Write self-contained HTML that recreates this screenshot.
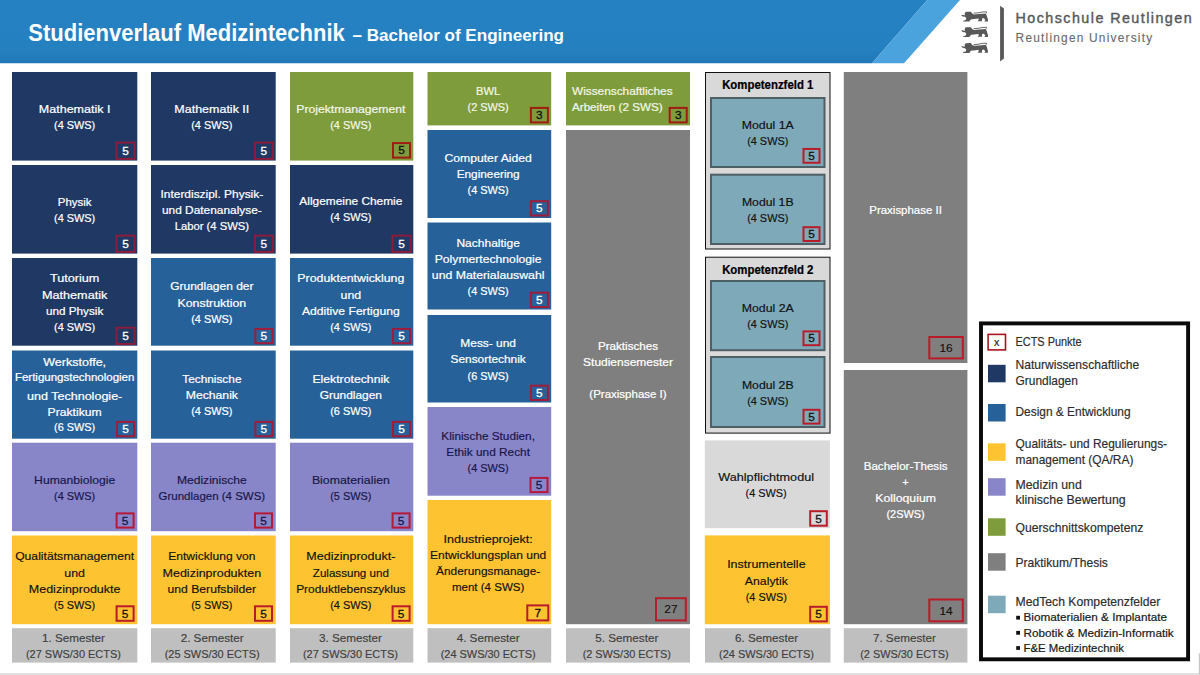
<!DOCTYPE html>
<html><head><meta charset="utf-8"><title>Studienverlauf Medizintechnik</title>
<style>html,body{margin:0;padding:0;background:#fff}body{width:1200px;height:675px;overflow:hidden}svg{display:block}text{font-family:"Liberation Sans",sans-serif}</style></head>
<body>
<svg width="1200" height="675" viewBox="0 0 1200 675">
<rect x="0" y="0" width="1200" height="675" fill="#ffffff"/>
<defs><linearGradient id="hg" x1="0" y1="0" x2="0" y2="1"><stop offset="0" stop-color="#2581c2"/><stop offset="0.8" stop-color="#2580c0"/><stop offset="1" stop-color="#2077b5"/></linearGradient></defs>
<polygon points="0,0 927.3,0 872,63.3 0,63.3" fill="url(#hg)"/>
<polygon points="927.3,0 960,0 904,63.3 872,63.3" fill="#4ba3de"/>
<text x="28.30" y="41.20" font-size="23.7" fill="#ffffff" font-weight="bold" textLength="316.50" lengthAdjust="spacingAndGlyphs">Studienverlauf Medizintechnik</text>
<text x="352.50" y="41.20" font-size="17.2" fill="#ffffff" font-weight="bold" textLength="211.50" lengthAdjust="spacingAndGlyphs">– Bachelor of Engineering</text>
<rect x="12.00" y="72.00" width="125.30" height="88.60" fill="#1f3864"/>
<text x="74.65" y="112.95" font-size="11.8" fill="#ffffff" text-anchor="middle" textLength="71.62" lengthAdjust="spacingAndGlyphs" stroke="#ffffff" stroke-width="0.22">Mathematik I</text>
<text x="74.65" y="129.05" font-size="11.8" fill="#ffffff" text-anchor="middle" textLength="41.24" lengthAdjust="spacingAndGlyphs" stroke="#ffffff" stroke-width="0.22">(4 SWS)</text>
<rect x="116.50" y="142.60" width="18.00" height="16.30" fill="none" stroke="#8c1c3c" stroke-width="2"/>
<text x="125.50" y="154.85" font-size="11.4" fill="#ffffff" text-anchor="middle" textLength="6.59" lengthAdjust="spacingAndGlyphs" stroke="#ffffff" stroke-width="0.3">5</text>
<rect x="12.00" y="165.00" width="125.30" height="88.60" fill="#1f3864"/>
<text x="74.65" y="205.95" font-size="11.8" fill="#ffffff" text-anchor="middle" textLength="33.66" lengthAdjust="spacingAndGlyphs" stroke="#ffffff" stroke-width="0.22">Physik</text>
<text x="74.65" y="222.05" font-size="11.8" fill="#ffffff" text-anchor="middle" textLength="41.24" lengthAdjust="spacingAndGlyphs" stroke="#ffffff" stroke-width="0.22">(4 SWS)</text>
<rect x="116.50" y="235.60" width="18.00" height="16.30" fill="none" stroke="#8c1c3c" stroke-width="2"/>
<text x="125.50" y="247.85" font-size="11.4" fill="#ffffff" text-anchor="middle" textLength="6.59" lengthAdjust="spacingAndGlyphs" stroke="#ffffff" stroke-width="0.3">5</text>
<rect x="12.00" y="258.00" width="125.30" height="87.70" fill="#1f3864"/>
<text x="74.65" y="282.40" font-size="11.8" fill="#ffffff" text-anchor="middle" textLength="49.48" lengthAdjust="spacingAndGlyphs" stroke="#ffffff" stroke-width="0.22">Tutorium</text>
<text x="74.65" y="298.50" font-size="11.8" fill="#ffffff" text-anchor="middle" textLength="65.35" lengthAdjust="spacingAndGlyphs" stroke="#ffffff" stroke-width="0.22">Mathematik</text>
<text x="74.65" y="314.60" font-size="11.8" fill="#ffffff" text-anchor="middle" textLength="57.27" lengthAdjust="spacingAndGlyphs" stroke="#ffffff" stroke-width="0.22">und Physik</text>
<text x="74.65" y="330.70" font-size="11.8" fill="#ffffff" text-anchor="middle" textLength="41.24" lengthAdjust="spacingAndGlyphs" stroke="#ffffff" stroke-width="0.22">(4 SWS)</text>
<rect x="116.50" y="327.70" width="18.00" height="16.30" fill="none" stroke="#8c1c3c" stroke-width="2"/>
<text x="125.50" y="339.95" font-size="11.4" fill="#ffffff" text-anchor="middle" textLength="6.59" lengthAdjust="spacingAndGlyphs" stroke="#ffffff" stroke-width="0.3">5</text>
<rect x="12.00" y="350.50" width="125.30" height="88.20" fill="#276199"/>
<text x="74.65" y="365.80" font-size="11.8" fill="#ffffff" text-anchor="middle" textLength="62.90" lengthAdjust="spacingAndGlyphs" stroke="#ffffff" stroke-width="0.22">Werkstoffe,</text>
<text x="74.65" y="381.40" font-size="10.9" fill="#ffffff" text-anchor="middle" textLength="119.50" lengthAdjust="spacingAndGlyphs" stroke="#ffffff" stroke-width="0.22">Fertigungstechnologien</text>
<text x="74.65" y="400.20" font-size="11.8" fill="#ffffff" text-anchor="middle" textLength="95.30" lengthAdjust="spacingAndGlyphs" stroke="#ffffff" stroke-width="0.22">und  Technologie-</text>
<text x="74.65" y="416.10" font-size="11.8" fill="#ffffff" text-anchor="middle" textLength="54.26" lengthAdjust="spacingAndGlyphs" stroke="#ffffff" stroke-width="0.22">Praktikum</text>
<text x="74.65" y="431.20" font-size="11.8" fill="#ffffff" text-anchor="middle" textLength="41.24" lengthAdjust="spacingAndGlyphs" stroke="#ffffff" stroke-width="0.22">(6 SWS)</text>
<rect x="117.00" y="421.90" width="17.00" height="14.30" fill="none" stroke="#a01c3a" stroke-width="2"/>
<text x="125.50" y="433.15" font-size="11.4" fill="#ffffff" text-anchor="middle" textLength="6.59" lengthAdjust="spacingAndGlyphs" stroke="#ffffff" stroke-width="0.3">5</text>
<rect x="12.00" y="442.70" width="125.30" height="88.50" fill="#8985c9"/>
<text x="74.65" y="483.60" font-size="11.8" fill="#16164a" text-anchor="middle" textLength="81.07" lengthAdjust="spacingAndGlyphs" stroke="#16164a" stroke-width="0.17">Humanbiologie</text>
<text x="74.65" y="499.70" font-size="11.8" fill="#16164a" text-anchor="middle" textLength="41.24" lengthAdjust="spacingAndGlyphs" stroke="#16164a" stroke-width="0.17">(4 SWS)</text>
<rect x="116.60" y="513.40" width="17.00" height="14.20" fill="none" stroke="#b81838" stroke-width="2"/>
<text x="125.10" y="524.60" font-size="11.4" fill="#16164a" text-anchor="middle" textLength="6.59" lengthAdjust="spacingAndGlyphs" stroke="#16164a" stroke-width="0.3">5</text>
<rect x="12.00" y="535.50" width="125.30" height="88.70" fill="#fec331"/>
<text x="74.65" y="560.40" font-size="11.8" fill="#111111" text-anchor="middle" textLength="118.99" lengthAdjust="spacingAndGlyphs" stroke="#111111" stroke-width="0.17">Qualitätsmanagement</text>
<text x="74.65" y="576.50" font-size="11.8" fill="#111111" text-anchor="middle" textLength="20.65" lengthAdjust="spacingAndGlyphs" stroke="#111111" stroke-width="0.17">und</text>
<text x="74.65" y="592.60" font-size="11.8" fill="#111111" text-anchor="middle" textLength="91.66" lengthAdjust="spacingAndGlyphs" stroke="#111111" stroke-width="0.17">Medizinprodukte</text>
<text x="74.65" y="608.70" font-size="11.8" fill="#111111" text-anchor="middle" textLength="41.24" lengthAdjust="spacingAndGlyphs" stroke="#111111" stroke-width="0.17">(5 SWS)</text>
<rect x="116.60" y="606.30" width="17.00" height="14.50" fill="none" stroke="#b81c28" stroke-width="2"/>
<text x="125.10" y="617.65" font-size="11.4" fill="#111111" text-anchor="middle" textLength="6.59" lengthAdjust="spacingAndGlyphs" stroke="#111111" stroke-width="0.3">5</text>
<rect x="151.00" y="72.00" width="124.70" height="88.60" fill="#1f3864"/>
<text x="211.85" y="112.95" font-size="11.8" fill="#ffffff" text-anchor="middle" textLength="74.92" lengthAdjust="spacingAndGlyphs" stroke="#ffffff" stroke-width="0.22">Mathematik II</text>
<text x="211.85" y="129.05" font-size="11.8" fill="#ffffff" text-anchor="middle" textLength="41.24" lengthAdjust="spacingAndGlyphs" stroke="#ffffff" stroke-width="0.22">(4 SWS)</text>
<rect x="254.90" y="142.60" width="18.00" height="16.30" fill="none" stroke="#8c1c3c" stroke-width="2"/>
<text x="263.90" y="154.85" font-size="11.4" fill="#ffffff" text-anchor="middle" textLength="6.59" lengthAdjust="spacingAndGlyphs" stroke="#ffffff" stroke-width="0.3">5</text>
<rect x="151.00" y="165.00" width="124.70" height="88.60" fill="#1f3864"/>
<text x="211.85" y="197.90" font-size="11.8" fill="#ffffff" text-anchor="middle" textLength="102.68" lengthAdjust="spacingAndGlyphs" stroke="#ffffff" stroke-width="0.22">Interdiszipl. Physik-</text>
<text x="211.85" y="214.00" font-size="11.8" fill="#ffffff" text-anchor="middle" textLength="99.75" lengthAdjust="spacingAndGlyphs" stroke="#ffffff" stroke-width="0.22">und Datenanalyse-</text>
<text x="211.85" y="230.10" font-size="11.8" fill="#ffffff" text-anchor="middle" textLength="74.34" lengthAdjust="spacingAndGlyphs" stroke="#ffffff" stroke-width="0.22">Labor (4 SWS)</text>
<rect x="254.90" y="235.60" width="18.00" height="16.30" fill="none" stroke="#8c1c3c" stroke-width="2"/>
<text x="263.90" y="247.85" font-size="11.4" fill="#ffffff" text-anchor="middle" textLength="6.59" lengthAdjust="spacingAndGlyphs" stroke="#ffffff" stroke-width="0.3">5</text>
<rect x="151.00" y="258.00" width="124.70" height="87.70" fill="#276199"/>
<text x="211.85" y="290.45" font-size="11.8" fill="#ffffff" text-anchor="middle" textLength="83.26" lengthAdjust="spacingAndGlyphs" stroke="#ffffff" stroke-width="0.22">Grundlagen der</text>
<text x="211.85" y="306.55" font-size="11.8" fill="#ffffff" text-anchor="middle" textLength="68.70" lengthAdjust="spacingAndGlyphs" stroke="#ffffff" stroke-width="0.22">Konstruktion</text>
<text x="211.85" y="322.65" font-size="11.8" fill="#ffffff" text-anchor="middle" textLength="41.24" lengthAdjust="spacingAndGlyphs" stroke="#ffffff" stroke-width="0.22">(4 SWS)</text>
<rect x="255.40" y="328.90" width="17.00" height="14.30" fill="none" stroke="#a01c3a" stroke-width="2"/>
<text x="263.90" y="340.15" font-size="11.4" fill="#ffffff" text-anchor="middle" textLength="6.59" lengthAdjust="spacingAndGlyphs" stroke="#ffffff" stroke-width="0.3">5</text>
<rect x="151.00" y="350.50" width="124.70" height="88.20" fill="#276199"/>
<text x="211.85" y="383.20" font-size="11.8" fill="#ffffff" text-anchor="middle" textLength="59.28" lengthAdjust="spacingAndGlyphs" stroke="#ffffff" stroke-width="0.22">Technische</text>
<text x="211.85" y="399.30" font-size="11.8" fill="#ffffff" text-anchor="middle" textLength="52.26" lengthAdjust="spacingAndGlyphs" stroke="#ffffff" stroke-width="0.22">Mechanik</text>
<text x="211.85" y="415.40" font-size="11.8" fill="#ffffff" text-anchor="middle" textLength="41.24" lengthAdjust="spacingAndGlyphs" stroke="#ffffff" stroke-width="0.22">(4 SWS)</text>
<rect x="255.40" y="421.90" width="17.00" height="14.30" fill="none" stroke="#a01c3a" stroke-width="2"/>
<text x="263.90" y="433.15" font-size="11.4" fill="#ffffff" text-anchor="middle" textLength="6.59" lengthAdjust="spacingAndGlyphs" stroke="#ffffff" stroke-width="0.3">5</text>
<rect x="151.00" y="442.70" width="124.70" height="88.50" fill="#8985c9"/>
<text x="211.85" y="483.60" font-size="11.8" fill="#16164a" text-anchor="middle" textLength="69.74" lengthAdjust="spacingAndGlyphs" stroke="#16164a" stroke-width="0.17">Medizinische</text>
<text x="211.85" y="499.70" font-size="11.8" fill="#16164a" text-anchor="middle" textLength="106.53" lengthAdjust="spacingAndGlyphs" stroke="#16164a" stroke-width="0.17">Grundlagen (4 SWS)</text>
<rect x="255.00" y="513.40" width="17.00" height="14.20" fill="none" stroke="#b81838" stroke-width="2"/>
<text x="263.50" y="524.60" font-size="11.4" fill="#16164a" text-anchor="middle" textLength="6.59" lengthAdjust="spacingAndGlyphs" stroke="#16164a" stroke-width="0.3">5</text>
<rect x="151.00" y="535.50" width="124.70" height="88.70" fill="#fec331"/>
<text x="211.85" y="560.40" font-size="11.8" fill="#111111" text-anchor="middle" textLength="87.14" lengthAdjust="spacingAndGlyphs" stroke="#111111" stroke-width="0.17">Entwicklung von</text>
<text x="211.85" y="576.50" font-size="11.8" fill="#111111" text-anchor="middle" textLength="98.54" lengthAdjust="spacingAndGlyphs" stroke="#111111" stroke-width="0.17">Medizinprodukten</text>
<text x="211.85" y="592.60" font-size="11.8" fill="#111111" text-anchor="middle" textLength="88.69" lengthAdjust="spacingAndGlyphs" stroke="#111111" stroke-width="0.17">und Berufsbilder</text>
<text x="211.85" y="608.70" font-size="11.8" fill="#111111" text-anchor="middle" textLength="41.24" lengthAdjust="spacingAndGlyphs" stroke="#111111" stroke-width="0.17">(5 SWS)</text>
<rect x="255.00" y="606.30" width="17.00" height="14.50" fill="none" stroke="#b81c28" stroke-width="2"/>
<text x="263.50" y="617.65" font-size="11.4" fill="#111111" text-anchor="middle" textLength="6.59" lengthAdjust="spacingAndGlyphs" stroke="#111111" stroke-width="0.3">5</text>
<rect x="290.00" y="72.00" width="123.30" height="88.60" fill="#7f9c3c"/>
<text x="350.85" y="112.95" font-size="11.8" fill="#f4f6e8" text-anchor="middle" textLength="109.07" lengthAdjust="spacingAndGlyphs" stroke="#f4f6e8" stroke-width="0.22">Projektmanagement</text>
<text x="350.85" y="129.05" font-size="11.8" fill="#f4f6e8" text-anchor="middle" textLength="41.24" lengthAdjust="spacingAndGlyphs" stroke="#f4f6e8" stroke-width="0.22">(4 SWS)</text>
<rect x="393.00" y="143.10" width="17.00" height="14.50" fill="none" stroke="#a01c12" stroke-width="2"/>
<text x="401.50" y="154.45" font-size="11.4" fill="#111111" text-anchor="middle" textLength="6.59" lengthAdjust="spacingAndGlyphs" stroke="#111111" stroke-width="0.3">5</text>
<rect x="290.00" y="165.00" width="123.30" height="88.60" fill="#1f3864"/>
<text x="350.85" y="205.15" font-size="11.8" fill="#ffffff" text-anchor="middle" textLength="103.00" lengthAdjust="spacingAndGlyphs" stroke="#ffffff" stroke-width="0.22">Allgemeine Chemie</text>
<text x="350.85" y="221.25" font-size="11.8" fill="#ffffff" text-anchor="middle" textLength="41.24" lengthAdjust="spacingAndGlyphs" stroke="#ffffff" stroke-width="0.22">(4 SWS)</text>
<rect x="392.50" y="235.60" width="18.00" height="16.30" fill="none" stroke="#8c1c3c" stroke-width="2"/>
<text x="401.50" y="247.85" font-size="11.4" fill="#ffffff" text-anchor="middle" textLength="6.59" lengthAdjust="spacingAndGlyphs" stroke="#ffffff" stroke-width="0.3">5</text>
<rect x="290.00" y="258.00" width="123.30" height="87.70" fill="#276199"/>
<text x="350.85" y="282.40" font-size="11.8" fill="#ffffff" text-anchor="middle" textLength="106.94" lengthAdjust="spacingAndGlyphs" stroke="#ffffff" stroke-width="0.22">Produktentwicklung</text>
<text x="350.85" y="298.50" font-size="11.8" fill="#ffffff" text-anchor="middle" textLength="20.65" lengthAdjust="spacingAndGlyphs" stroke="#ffffff" stroke-width="0.22">und</text>
<text x="350.85" y="314.60" font-size="11.8" fill="#ffffff" text-anchor="middle" textLength="97.74" lengthAdjust="spacingAndGlyphs" stroke="#ffffff" stroke-width="0.22">Additive Fertigung</text>
<text x="350.85" y="330.70" font-size="11.8" fill="#ffffff" text-anchor="middle" textLength="41.24" lengthAdjust="spacingAndGlyphs" stroke="#ffffff" stroke-width="0.22">(4 SWS)</text>
<rect x="393.00" y="328.90" width="17.00" height="14.30" fill="none" stroke="#a01c3a" stroke-width="2"/>
<text x="401.50" y="340.15" font-size="11.4" fill="#ffffff" text-anchor="middle" textLength="6.59" lengthAdjust="spacingAndGlyphs" stroke="#ffffff" stroke-width="0.3">5</text>
<rect x="290.00" y="350.50" width="123.30" height="88.20" fill="#276199"/>
<text x="350.85" y="383.20" font-size="11.8" fill="#ffffff" text-anchor="middle" textLength="76.91" lengthAdjust="spacingAndGlyphs" stroke="#ffffff" stroke-width="0.22">Elektrotechnik</text>
<text x="350.85" y="399.30" font-size="11.8" fill="#ffffff" text-anchor="middle" textLength="62.33" lengthAdjust="spacingAndGlyphs" stroke="#ffffff" stroke-width="0.22">Grundlagen</text>
<text x="350.85" y="415.40" font-size="11.8" fill="#ffffff" text-anchor="middle" textLength="41.24" lengthAdjust="spacingAndGlyphs" stroke="#ffffff" stroke-width="0.22">(6 SWS)</text>
<rect x="393.00" y="421.90" width="17.00" height="14.30" fill="none" stroke="#a01c3a" stroke-width="2"/>
<text x="401.50" y="433.15" font-size="11.4" fill="#ffffff" text-anchor="middle" textLength="6.59" lengthAdjust="spacingAndGlyphs" stroke="#ffffff" stroke-width="0.3">5</text>
<rect x="290.00" y="442.70" width="123.30" height="88.50" fill="#8985c9"/>
<text x="350.85" y="483.60" font-size="11.8" fill="#16164a" text-anchor="middle" textLength="77.95" lengthAdjust="spacingAndGlyphs" stroke="#16164a" stroke-width="0.17">Biomaterialien</text>
<text x="350.85" y="499.70" font-size="11.8" fill="#16164a" text-anchor="middle" textLength="41.24" lengthAdjust="spacingAndGlyphs" stroke="#16164a" stroke-width="0.17">(5 SWS)</text>
<rect x="392.60" y="513.40" width="17.00" height="14.20" fill="none" stroke="#b81838" stroke-width="2"/>
<text x="401.10" y="524.60" font-size="11.4" fill="#16164a" text-anchor="middle" textLength="6.59" lengthAdjust="spacingAndGlyphs" stroke="#16164a" stroke-width="0.3">5</text>
<rect x="290.00" y="535.50" width="123.30" height="88.70" fill="#fec331"/>
<text x="350.85" y="560.40" font-size="11.8" fill="#111111" text-anchor="middle" textLength="89.15" lengthAdjust="spacingAndGlyphs" stroke="#111111" stroke-width="0.17">Medizinprodukt-</text>
<text x="350.85" y="576.50" font-size="11.8" fill="#111111" text-anchor="middle" textLength="76.09" lengthAdjust="spacingAndGlyphs" stroke="#111111" stroke-width="0.17">Zulassung und</text>
<text x="350.85" y="592.60" font-size="11.8" fill="#111111" text-anchor="middle" textLength="109.35" lengthAdjust="spacingAndGlyphs" stroke="#111111" stroke-width="0.17">Produktlebenszyklus</text>
<text x="350.85" y="608.70" font-size="11.8" fill="#111111" text-anchor="middle" textLength="41.24" lengthAdjust="spacingAndGlyphs" stroke="#111111" stroke-width="0.17">(4 SWS)</text>
<rect x="392.60" y="606.30" width="17.00" height="14.50" fill="none" stroke="#b81c28" stroke-width="2"/>
<text x="401.10" y="617.65" font-size="11.4" fill="#111111" text-anchor="middle" textLength="6.59" lengthAdjust="spacingAndGlyphs" stroke="#111111" stroke-width="0.3">5</text>
<rect x="427.50" y="72.00" width="123.70" height="53.40" fill="#7f9c3c"/>
<text x="488.15" y="95.35" font-size="11.8" fill="#f4f6e8" text-anchor="middle" textLength="24.29" lengthAdjust="spacingAndGlyphs" stroke="#f4f6e8" stroke-width="0.22">BWL</text>
<text x="488.15" y="111.45" font-size="11.8" fill="#f4f6e8" text-anchor="middle" textLength="41.24" lengthAdjust="spacingAndGlyphs" stroke="#f4f6e8" stroke-width="0.22">(2 SWS)</text>
<rect x="530.90" y="107.90" width="17.00" height="14.50" fill="none" stroke="#a01c12" stroke-width="2"/>
<text x="539.40" y="119.25" font-size="11.4" fill="#111111" text-anchor="middle" textLength="6.59" lengthAdjust="spacingAndGlyphs" stroke="#111111" stroke-width="0.3">3</text>
<rect x="427.50" y="130.00" width="123.70" height="88.00" fill="#276199"/>
<text x="488.15" y="161.70" font-size="11.8" fill="#ffffff" text-anchor="middle" textLength="87.43" lengthAdjust="spacingAndGlyphs" stroke="#ffffff" stroke-width="0.22">Computer Aided</text>
<text x="488.15" y="177.80" font-size="11.8" fill="#ffffff" text-anchor="middle" textLength="62.99" lengthAdjust="spacingAndGlyphs" stroke="#ffffff" stroke-width="0.22">Engineering</text>
<text x="488.15" y="193.90" font-size="11.8" fill="#ffffff" text-anchor="middle" textLength="41.24" lengthAdjust="spacingAndGlyphs" stroke="#ffffff" stroke-width="0.22">(4 SWS)</text>
<rect x="530.90" y="201.20" width="17.00" height="14.30" fill="none" stroke="#a01c3a" stroke-width="2"/>
<text x="539.40" y="212.45" font-size="11.4" fill="#ffffff" text-anchor="middle" textLength="6.59" lengthAdjust="spacingAndGlyphs" stroke="#ffffff" stroke-width="0.3">5</text>
<rect x="427.50" y="222.50" width="123.70" height="87.00" fill="#276199"/>
<text x="488.15" y="246.55" font-size="11.8" fill="#ffffff" text-anchor="middle" textLength="63.40" lengthAdjust="spacingAndGlyphs" stroke="#ffffff" stroke-width="0.22">Nachhaltige</text>
<text x="488.15" y="262.65" font-size="11.8" fill="#ffffff" text-anchor="middle" textLength="106.89" lengthAdjust="spacingAndGlyphs" stroke="#ffffff" stroke-width="0.22">Polymertechnologie</text>
<text x="488.15" y="278.75" font-size="11.8" fill="#ffffff" text-anchor="middle" textLength="112.65" lengthAdjust="spacingAndGlyphs" stroke="#ffffff" stroke-width="0.22">und Materialauswahl</text>
<text x="488.15" y="294.85" font-size="11.8" fill="#ffffff" text-anchor="middle" textLength="41.24" lengthAdjust="spacingAndGlyphs" stroke="#ffffff" stroke-width="0.22">(4 SWS)</text>
<rect x="530.90" y="292.70" width="17.00" height="14.30" fill="none" stroke="#a01c3a" stroke-width="2"/>
<text x="539.40" y="303.95" font-size="11.4" fill="#ffffff" text-anchor="middle" textLength="6.59" lengthAdjust="spacingAndGlyphs" stroke="#ffffff" stroke-width="0.3">5</text>
<rect x="427.50" y="315.00" width="123.70" height="87.50" fill="#276199"/>
<text x="488.15" y="347.35" font-size="11.8" fill="#ffffff" text-anchor="middle" textLength="55.59" lengthAdjust="spacingAndGlyphs" stroke="#ffffff" stroke-width="0.22">Mess- und</text>
<text x="488.15" y="363.45" font-size="11.8" fill="#ffffff" text-anchor="middle" textLength="75.19" lengthAdjust="spacingAndGlyphs" stroke="#ffffff" stroke-width="0.22">Sensortechnik</text>
<text x="488.15" y="379.55" font-size="11.8" fill="#ffffff" text-anchor="middle" textLength="41.24" lengthAdjust="spacingAndGlyphs" stroke="#ffffff" stroke-width="0.22">(6 SWS)</text>
<rect x="530.90" y="385.70" width="17.00" height="14.30" fill="none" stroke="#a01c3a" stroke-width="2"/>
<text x="539.40" y="396.95" font-size="11.4" fill="#ffffff" text-anchor="middle" textLength="6.59" lengthAdjust="spacingAndGlyphs" stroke="#ffffff" stroke-width="0.3">5</text>
<rect x="427.50" y="407.00" width="123.70" height="88.70" fill="#8985c9"/>
<text x="488.15" y="439.95" font-size="11.8" fill="#16164a" text-anchor="middle" textLength="93.58" lengthAdjust="spacingAndGlyphs" stroke="#16164a" stroke-width="0.17">Klinische Studien,</text>
<text x="488.15" y="456.05" font-size="11.8" fill="#16164a" text-anchor="middle" textLength="83.64" lengthAdjust="spacingAndGlyphs" stroke="#16164a" stroke-width="0.17">Ethik und Recht</text>
<text x="488.15" y="472.15" font-size="11.8" fill="#16164a" text-anchor="middle" textLength="41.24" lengthAdjust="spacingAndGlyphs" stroke="#16164a" stroke-width="0.17">(4 SWS)</text>
<rect x="530.50" y="477.90" width="17.00" height="14.20" fill="none" stroke="#b81838" stroke-width="2"/>
<text x="539.00" y="489.10" font-size="11.4" fill="#16164a" text-anchor="middle" textLength="6.59" lengthAdjust="spacingAndGlyphs" stroke="#16164a" stroke-width="0.3">5</text>
<rect x="427.50" y="500.00" width="123.70" height="124.20" fill="#fec331"/>
<text x="488.15" y="542.65" font-size="11.8" fill="#111111" text-anchor="middle" textLength="89.41" lengthAdjust="spacingAndGlyphs" stroke="#111111" stroke-width="0.17">Industrieprojekt:</text>
<text x="488.15" y="558.75" font-size="11.8" fill="#111111" text-anchor="middle" textLength="116.25" lengthAdjust="spacingAndGlyphs" stroke="#111111" stroke-width="0.17">Entwicklungsplan und</text>
<text x="488.15" y="574.85" font-size="11.8" fill="#111111" text-anchor="middle" textLength="104.08" lengthAdjust="spacingAndGlyphs" stroke="#111111" stroke-width="0.17">Änderungsmanage-</text>
<text x="488.15" y="590.95" font-size="11.8" fill="#111111" text-anchor="middle" textLength="72.45" lengthAdjust="spacingAndGlyphs" stroke="#111111" stroke-width="0.17">ment (4 SWS)</text>
<rect x="527.30" y="605.40" width="21.00" height="15.00" fill="none" stroke="#b81c28" stroke-width="2"/>
<text x="537.80" y="617.00" font-size="11.4" fill="#111111" text-anchor="middle" textLength="6.59" lengthAdjust="spacingAndGlyphs" stroke="#111111" stroke-width="0.3">7</text>
<rect x="566.00" y="72.00" width="124.00" height="53.40" fill="#7f9c3c"/>
<text x="572.00" y="95.10" font-size="11.8" fill="#f4f6e8" textLength="100.59" lengthAdjust="spacingAndGlyphs" stroke="#f4f6e8" stroke-width="0.22">Wissenschaftliches</text>
<text x="572.00" y="111.00" font-size="11.8" fill="#f4f6e8" textLength="90.54" lengthAdjust="spacingAndGlyphs" stroke="#f4f6e8" stroke-width="0.22">Arbeiten (2 SWS)</text>
<rect x="669.70" y="107.90" width="17.00" height="14.50" fill="none" stroke="#a01c12" stroke-width="2"/>
<text x="678.20" y="119.25" font-size="11.4" fill="#111111" text-anchor="middle" textLength="6.59" lengthAdjust="spacingAndGlyphs" stroke="#111111" stroke-width="0.3">3</text>
<rect x="566.00" y="130.00" width="124.00" height="494.20" fill="#7f7f7f"/>
<text x="628.00" y="349.80" font-size="11.8" fill="#ffffff" text-anchor="middle" textLength="60.15" lengthAdjust="spacingAndGlyphs" stroke="#ffffff" stroke-width="0.22">Praktisches</text>
<text x="628.00" y="365.90" font-size="11.8" fill="#ffffff" text-anchor="middle" textLength="89.80" lengthAdjust="spacingAndGlyphs" stroke="#ffffff" stroke-width="0.22">Studiensemester</text>
<text x="628.00" y="398.10" font-size="11.8" fill="#ffffff" text-anchor="middle" textLength="77.30" lengthAdjust="spacingAndGlyphs" stroke="#ffffff" stroke-width="0.22">(Praxisphase I)</text>
<rect x="656.00" y="598.20" width="29.80" height="22.20" fill="none" stroke="#b81c28" stroke-width="2"/>
<text x="670.90" y="613.40" font-size="11.4" fill="#111111" text-anchor="middle" textLength="13.18" lengthAdjust="spacingAndGlyphs" stroke="#111111" stroke-width="0.12">27</text>
<rect x="705.50" y="72.50" width="124.50" height="176.50" fill="#d9d9d9" stroke="#111111" stroke-width="1"/>
<text x="767.75" y="89.20" font-size="11.9" fill="#000000" text-anchor="middle" font-weight="bold" textLength="91.24" lengthAdjust="spacingAndGlyphs" stroke="#000000" stroke-width="0.22">Kompetenzfeld 1</text>
<rect x="711.00" y="98.00" width="113.50" height="69.00" fill="#7ea9b8" stroke="#4f5f66" stroke-width="2"/>
<text x="767.75" y="129.15" font-size="11.8" fill="#111111" text-anchor="middle" textLength="52.06" lengthAdjust="spacingAndGlyphs" stroke="#111111" stroke-width="0.17">Modul 1A</text>
<text x="767.75" y="145.25" font-size="11.8" fill="#111111" text-anchor="middle" textLength="41.24" lengthAdjust="spacingAndGlyphs" stroke="#111111" stroke-width="0.17">(4 SWS)</text>
<rect x="803.50" y="148.95" width="16.00" height="13.80" fill="none" stroke="#b81c28" stroke-width="2"/>
<text x="811.50" y="159.95" font-size="11.4" fill="#111111" text-anchor="middle" textLength="6.59" lengthAdjust="spacingAndGlyphs" stroke="#111111" stroke-width="0.3">5</text>
<rect x="711.00" y="174.70" width="113.50" height="69.30" fill="#7ea9b8" stroke="#4f5f66" stroke-width="2"/>
<text x="767.75" y="206.00" font-size="11.8" fill="#111111" text-anchor="middle" textLength="51.61" lengthAdjust="spacingAndGlyphs" stroke="#111111" stroke-width="0.17">Modul 1B</text>
<text x="767.75" y="222.10" font-size="11.8" fill="#111111" text-anchor="middle" textLength="41.24" lengthAdjust="spacingAndGlyphs" stroke="#111111" stroke-width="0.17">(4 SWS)</text>
<rect x="803.50" y="227.20" width="16.00" height="13.80" fill="none" stroke="#b81c28" stroke-width="2"/>
<text x="811.50" y="238.20" font-size="11.4" fill="#111111" text-anchor="middle" textLength="6.59" lengthAdjust="spacingAndGlyphs" stroke="#111111" stroke-width="0.3">5</text>
<rect x="705.50" y="257.20" width="124.50" height="175.90" fill="#d9d9d9" stroke="#111111" stroke-width="1"/>
<text x="767.75" y="273.90" font-size="11.9" fill="#000000" text-anchor="middle" font-weight="bold" textLength="91.24" lengthAdjust="spacingAndGlyphs" stroke="#000000" stroke-width="0.22">Kompetenzfeld 2</text>
<rect x="711.00" y="281.00" width="113.50" height="69.20" fill="#7ea9b8" stroke="#4f5f66" stroke-width="2"/>
<text x="767.75" y="312.25" font-size="11.8" fill="#111111" text-anchor="middle" textLength="52.06" lengthAdjust="spacingAndGlyphs" stroke="#111111" stroke-width="0.17">Modul 2A</text>
<text x="767.75" y="328.35" font-size="11.8" fill="#111111" text-anchor="middle" textLength="41.24" lengthAdjust="spacingAndGlyphs" stroke="#111111" stroke-width="0.17">(4 SWS)</text>
<rect x="803.50" y="331.40" width="16.00" height="13.80" fill="none" stroke="#b81c28" stroke-width="2"/>
<text x="811.50" y="342.40" font-size="11.4" fill="#111111" text-anchor="middle" textLength="6.59" lengthAdjust="spacingAndGlyphs" stroke="#111111" stroke-width="0.3">5</text>
<rect x="711.00" y="357.00" width="113.50" height="70.00" fill="#7ea9b8" stroke="#4f5f66" stroke-width="2"/>
<text x="767.75" y="388.65" font-size="11.8" fill="#111111" text-anchor="middle" textLength="51.61" lengthAdjust="spacingAndGlyphs" stroke="#111111" stroke-width="0.17">Modul 2B</text>
<text x="767.75" y="404.75" font-size="11.8" fill="#111111" text-anchor="middle" textLength="41.24" lengthAdjust="spacingAndGlyphs" stroke="#111111" stroke-width="0.17">(4 SWS)</text>
<rect x="803.50" y="409.80" width="16.00" height="13.80" fill="none" stroke="#b81c28" stroke-width="2"/>
<text x="811.50" y="420.80" font-size="11.4" fill="#111111" text-anchor="middle" textLength="6.59" lengthAdjust="spacingAndGlyphs" stroke="#111111" stroke-width="0.3">5</text>
<rect x="704.80" y="440.40" width="125.10" height="87.80" fill="#d9d9d9"/>
<text x="766.15" y="480.95" font-size="11.8" fill="#111111" text-anchor="middle" textLength="95.67" lengthAdjust="spacingAndGlyphs" stroke="#111111" stroke-width="0.17">Wahlpflichtmodul</text>
<text x="766.15" y="497.05" font-size="11.8" fill="#111111" text-anchor="middle" textLength="41.24" lengthAdjust="spacingAndGlyphs" stroke="#111111" stroke-width="0.17">(4 SWS)</text>
<rect x="810.20" y="511.20" width="16.60" height="14.50" fill="none" stroke="#b81c28" stroke-width="2"/>
<text x="818.50" y="522.55" font-size="11.4" fill="#111111" text-anchor="middle" textLength="6.59" lengthAdjust="spacingAndGlyphs" stroke="#111111" stroke-width="0.3">5</text>
<rect x="704.80" y="535.40" width="125.10" height="88.80" fill="#fec331"/>
<text x="766.35" y="568.40" font-size="11.8" fill="#111111" text-anchor="middle" textLength="78.45" lengthAdjust="spacingAndGlyphs" stroke="#111111" stroke-width="0.17">Instrumentelle</text>
<text x="766.35" y="584.50" font-size="11.8" fill="#111111" text-anchor="middle" textLength="43.02" lengthAdjust="spacingAndGlyphs" stroke="#111111" stroke-width="0.17">Analytik</text>
<text x="766.35" y="600.60" font-size="11.8" fill="#111111" text-anchor="middle" textLength="41.24" lengthAdjust="spacingAndGlyphs" stroke="#111111" stroke-width="0.17">(4 SWS)</text>
<rect x="810.20" y="606.80" width="16.60" height="14.60" fill="none" stroke="#b81c28" stroke-width="2"/>
<text x="818.50" y="618.20" font-size="11.4" fill="#111111" text-anchor="middle" textLength="6.59" lengthAdjust="spacingAndGlyphs" stroke="#111111" stroke-width="0.3">5</text>
<rect x="843.80" y="72.00" width="123.60" height="291.00" fill="#7f7f7f"/>
<text x="905.60" y="214.20" font-size="11.8" fill="#ffffff" text-anchor="middle" textLength="72.66" lengthAdjust="spacingAndGlyphs" stroke="#ffffff" stroke-width="0.22">Praxisphase II</text>
<rect x="929.30" y="337.00" width="33.50" height="21.40" fill="none" stroke="#b81c28" stroke-width="2"/>
<text x="946.05" y="351.80" font-size="11.4" fill="#111111" text-anchor="middle" textLength="13.18" lengthAdjust="spacingAndGlyphs" stroke="#111111" stroke-width="0.12">16</text>
<rect x="843.80" y="370.00" width="123.60" height="254.20" fill="#7f7f7f"/>
<text x="905.60" y="470.00" font-size="11.8" fill="#ffffff" text-anchor="middle" textLength="83.87" lengthAdjust="spacingAndGlyphs" stroke="#ffffff" stroke-width="0.22">Bachelor-Thesis</text>
<text x="905.60" y="486.10" font-size="11.8" fill="#ffffff" text-anchor="middle" textLength="6.52" lengthAdjust="spacingAndGlyphs" stroke="#ffffff" stroke-width="0.22">+</text>
<text x="905.60" y="502.20" font-size="11.8" fill="#ffffff" text-anchor="middle" textLength="60.75" lengthAdjust="spacingAndGlyphs" stroke="#ffffff" stroke-width="0.22">Kolloquium</text>
<text x="905.60" y="518.30" font-size="11.8" fill="#ffffff" text-anchor="middle" textLength="38.28" lengthAdjust="spacingAndGlyphs" stroke="#ffffff" stroke-width="0.22">(2SWS)</text>
<rect x="929.30" y="599.50" width="33.50" height="21.80" fill="none" stroke="#b81c28" stroke-width="2"/>
<text x="946.05" y="614.50" font-size="11.4" fill="#111111" text-anchor="middle" textLength="13.18" lengthAdjust="spacingAndGlyphs" stroke="#111111" stroke-width="0.12">14</text>
<rect x="12.00" y="628.20" width="125.30" height="34.40" fill="#bfbfbf"/>
<text x="73.45" y="641.80" font-size="11.8" fill="#404040" text-anchor="middle" textLength="63.02" lengthAdjust="spacingAndGlyphs" stroke="#404040" stroke-width="0.17">1. Semester</text>
<text x="73.45" y="657.60" font-size="11.8" fill="#404040" text-anchor="middle" textLength="94.96" lengthAdjust="spacingAndGlyphs" stroke="#404040" stroke-width="0.17">(27 SWS/30 ECTS)</text>
<rect x="151.00" y="628.20" width="124.70" height="34.40" fill="#bfbfbf"/>
<text x="212.15" y="641.80" font-size="11.8" fill="#404040" text-anchor="middle" textLength="63.02" lengthAdjust="spacingAndGlyphs" stroke="#404040" stroke-width="0.17">2. Semester</text>
<text x="212.15" y="657.60" font-size="11.8" fill="#404040" text-anchor="middle" textLength="94.96" lengthAdjust="spacingAndGlyphs" stroke="#404040" stroke-width="0.17">(25 SWS/30 ECTS)</text>
<rect x="290.00" y="628.20" width="123.30" height="34.40" fill="#bfbfbf"/>
<text x="350.45" y="641.80" font-size="11.8" fill="#404040" text-anchor="middle" textLength="63.02" lengthAdjust="spacingAndGlyphs" stroke="#404040" stroke-width="0.17">3. Semester</text>
<text x="350.45" y="657.60" font-size="11.8" fill="#404040" text-anchor="middle" textLength="94.96" lengthAdjust="spacingAndGlyphs" stroke="#404040" stroke-width="0.17">(27 SWS/30 ECTS)</text>
<rect x="427.50" y="628.20" width="123.70" height="34.40" fill="#bfbfbf"/>
<text x="488.15" y="641.80" font-size="11.8" fill="#404040" text-anchor="middle" textLength="63.02" lengthAdjust="spacingAndGlyphs" stroke="#404040" stroke-width="0.17">4. Semester</text>
<text x="488.15" y="657.60" font-size="11.8" fill="#404040" text-anchor="middle" textLength="94.96" lengthAdjust="spacingAndGlyphs" stroke="#404040" stroke-width="0.17">(24 SWS/30 ECTS)</text>
<rect x="566.00" y="628.20" width="124.00" height="34.40" fill="#bfbfbf"/>
<text x="626.80" y="641.80" font-size="11.8" fill="#404040" text-anchor="middle" textLength="63.02" lengthAdjust="spacingAndGlyphs" stroke="#404040" stroke-width="0.17">5. Semester</text>
<text x="626.80" y="657.60" font-size="11.8" fill="#404040" text-anchor="middle" textLength="88.32" lengthAdjust="spacingAndGlyphs" stroke="#404040" stroke-width="0.17">(2 SWS/30 ECTS)</text>
<rect x="705.00" y="628.20" width="125.50" height="34.40" fill="#bfbfbf"/>
<text x="766.55" y="641.80" font-size="11.8" fill="#404040" text-anchor="middle" textLength="63.02" lengthAdjust="spacingAndGlyphs" stroke="#404040" stroke-width="0.17">6. Semester</text>
<text x="766.55" y="657.60" font-size="11.8" fill="#404040" text-anchor="middle" textLength="94.96" lengthAdjust="spacingAndGlyphs" stroke="#404040" stroke-width="0.17">(24 SWS/30 ECTS)</text>
<rect x="843.80" y="628.20" width="123.60" height="34.40" fill="#bfbfbf"/>
<text x="904.40" y="641.80" font-size="11.8" fill="#404040" text-anchor="middle" textLength="63.02" lengthAdjust="spacingAndGlyphs" stroke="#404040" stroke-width="0.17">7. Semester</text>
<text x="904.40" y="657.60" font-size="11.8" fill="#404040" text-anchor="middle" textLength="88.32" lengthAdjust="spacingAndGlyphs" stroke="#404040" stroke-width="0.17">(2 SWS/30 ECTS)</text>
<rect x="0.00" y="673.50" width="1200.00" height="1.00" fill="#c4c4c4"/>
<rect x="1198.80" y="653.50" width="1.20" height="21.00" fill="#c6c6c6"/>
<rect x="981.00" y="323.40" width="207.10" height="335.90" fill="#ffffff" stroke="#0a0a0a" stroke-width="3.9"/>
<rect x="988.10" y="334.40" width="17.40" height="15.50" fill="#ffffff" stroke="#a8141e" stroke-width="1.6"/>
<text x="996.70" y="345.60" font-size="11" fill="#2c2c2c" text-anchor="middle" textLength="5.41" lengthAdjust="spacingAndGlyphs" stroke="#2c2c2c" stroke-width="0.17">x</text>
<text x="1015.50" y="345.70" font-size="11.85" fill="#2c2c2c" textLength="66.14" lengthAdjust="spacingAndGlyphs" stroke="#2c2c2c" stroke-width="0.17">ECTS Punkte</text>
<rect x="988.00" y="364.80" width="17.60" height="17.50" fill="#1f3864"/>
<text x="1015.50" y="369.30" font-size="11.85" fill="#2c2c2c" textLength="123.75" lengthAdjust="spacingAndGlyphs" stroke="#2c2c2c" stroke-width="0.17">Naturwissenschaftliche</text>
<text x="1015.50" y="384.90" font-size="11.85" fill="#2c2c2c" textLength="62.33" lengthAdjust="spacingAndGlyphs" stroke="#2c2c2c" stroke-width="0.17">Grundlagen</text>
<rect x="988.00" y="404.00" width="17.60" height="17.50" fill="#276199"/>
<text x="1015.50" y="416.40" font-size="11.85" fill="#2c2c2c" textLength="115.09" lengthAdjust="spacingAndGlyphs" stroke="#2c2c2c" stroke-width="0.17">Design &amp; Entwicklung</text>
<rect x="988.00" y="443.30" width="17.60" height="17.50" fill="#fec331"/>
<text x="1015.50" y="448.00" font-size="11.85" fill="#2c2c2c" textLength="151.58" lengthAdjust="spacingAndGlyphs" stroke="#2c2c2c" stroke-width="0.17">Qualitäts- und Regulierungs-</text>
<text x="1015.50" y="463.80" font-size="11.85" fill="#2c2c2c" textLength="117.89" lengthAdjust="spacingAndGlyphs" stroke="#2c2c2c" stroke-width="0.17">management (QA/RA)</text>
<rect x="988.00" y="478.20" width="17.60" height="17.50" fill="#8985c9"/>
<text x="1015.50" y="488.60" font-size="11.85" fill="#2c2c2c" textLength="66.28" lengthAdjust="spacingAndGlyphs" stroke="#2c2c2c" stroke-width="0.17">Medizin und</text>
<text x="1015.50" y="503.90" font-size="11.85" fill="#2c2c2c" textLength="110.26" lengthAdjust="spacingAndGlyphs" stroke="#2c2c2c" stroke-width="0.17">klinische  Bewertung</text>
<rect x="988.00" y="518.30" width="17.60" height="17.50" fill="#7f9c3c"/>
<text x="1015.50" y="531.60" font-size="11.85" fill="#2c2c2c" textLength="127.81" lengthAdjust="spacingAndGlyphs" stroke="#2c2c2c" stroke-width="0.17">Querschnittskompetenz</text>
<rect x="988.00" y="553.20" width="17.60" height="17.50" fill="#7f7f7f"/>
<text x="1015.50" y="566.90" font-size="11.85" fill="#2c2c2c" textLength="92.36" lengthAdjust="spacingAndGlyphs" stroke="#2c2c2c" stroke-width="0.17">Praktikum/Thesis</text>
<rect x="988.00" y="595.70" width="17.60" height="17.50" fill="#7ea9b8"/>
<text x="1015.50" y="605.90" font-size="11.85" fill="#2c2c2c" textLength="144.92" lengthAdjust="spacingAndGlyphs" stroke="#2c2c2c" stroke-width="0.17">MedTech Kompetenzfelder</text>
<rect x="1016.20" y="615.80" width="3.80" height="3.80" fill="#111"/>
<text x="1023.50" y="621.40" font-size="10.9" fill="#1a1a1a" textLength="143.50" lengthAdjust="spacingAndGlyphs" stroke="#1a1a1a" stroke-width="0.2">Biomaterialien &amp; Implantate</text>
<rect x="1016.20" y="630.90" width="3.80" height="3.80" fill="#111"/>
<text x="1023.50" y="636.50" font-size="10.9" fill="#1a1a1a" textLength="150.20" lengthAdjust="spacingAndGlyphs" stroke="#1a1a1a" stroke-width="0.2">Robotik &amp; Medizin-Informatik</text>
<rect x="1016.20" y="646.10" width="3.80" height="3.80" fill="#111"/>
<text x="1023.50" y="651.70" font-size="10.9" fill="#1a1a1a" textLength="100.50" lengthAdjust="spacingAndGlyphs" stroke="#1a1a1a" stroke-width="0.2">F&amp;E Medizintechnik</text>
<polygon points="1000.1,5.8 1003.9,8.6 1003.9,58.6 1000.1,61.5" fill="#58585a"/>
<text x="1015.6" y="22.9" font-size="14.3" fill="#58585a" stroke="#58585a" stroke-width="0.4" textLength="176" lengthAdjust="spacing">Hochschule Reutlingen</text>
<text x="1015.6" y="41.7" font-size="11.9" fill="#69696b" stroke="#69696b" stroke-width="0.1" textLength="136.5" lengthAdjust="spacing">Reutlingen University</text>
<g transform="translate(961.1,11.4)"><path d="M0,3.8 L1.5,3.4 L3.6,4.0 L3.7,1.8 L4.6,0.4 L9.8,0.3 L10.8,1.9 L12.8,3.0 L18,2.7 L24.8,2.0 L25.8,4.5 L26.9,8.4 L26.9,10 L23.2,10 L24.2,8.6 L22.8,6.8 L21,7.2 L20.8,9.9 L16.4,9.9 L17.6,8.6 L17.4,7.0 L13,7.6 L10.4,7.8 L8.6,9.2 L8.6,10.2 L2,10.2 L2.3,9.3 L4.6,8.6 L5.2,6.6 L3.8,5.4 L1.6,5.0 Z" fill="#58585a"/><path d="M12.6,1.7 L17,1.5 L21,0.6 L25.4,0.4 L25.6,1.8" fill="none" stroke="#58585a" stroke-width="0.9"/></g>
<g transform="translate(961.1,26.9)"><path d="M0,3.8 L1.5,3.4 L3.6,4.0 L3.7,1.8 L4.6,0.4 L9.8,0.3 L10.8,1.9 L12.8,3.0 L18,2.7 L24.8,2.0 L25.8,4.5 L26.9,8.4 L26.9,10 L23.2,10 L24.2,8.6 L22.8,6.8 L21,7.2 L20.8,9.9 L16.4,9.9 L17.6,8.6 L17.4,7.0 L13,7.6 L10.4,7.8 L8.6,9.2 L8.6,10.2 L2,10.2 L2.3,9.3 L4.6,8.6 L5.2,6.6 L3.8,5.4 L1.6,5.0 Z" fill="#58585a"/><path d="M12.6,1.7 L17,1.5 L21,0.6 L25.4,0.4 L25.6,1.8" fill="none" stroke="#58585a" stroke-width="0.9"/></g>
<g transform="translate(961.1,42.8)"><path d="M0,3.8 L1.5,3.4 L3.6,4.0 L3.7,1.8 L4.6,0.4 L9.8,0.3 L10.8,1.9 L12.8,3.0 L18,2.7 L24.8,2.0 L25.8,4.5 L26.9,8.4 L26.9,10 L23.2,10 L24.2,8.6 L22.8,6.8 L21,7.2 L20.8,9.9 L16.4,9.9 L17.6,8.6 L17.4,7.0 L13,7.6 L10.4,7.8 L8.6,9.2 L8.6,10.2 L2,10.2 L2.3,9.3 L4.6,8.6 L5.2,6.6 L3.8,5.4 L1.6,5.0 Z" fill="#58585a"/><path d="M12.6,1.7 L17,1.5 L21,0.6 L25.4,0.4 L25.6,1.8" fill="none" stroke="#58585a" stroke-width="0.9"/></g>
</svg>
</body></html>
